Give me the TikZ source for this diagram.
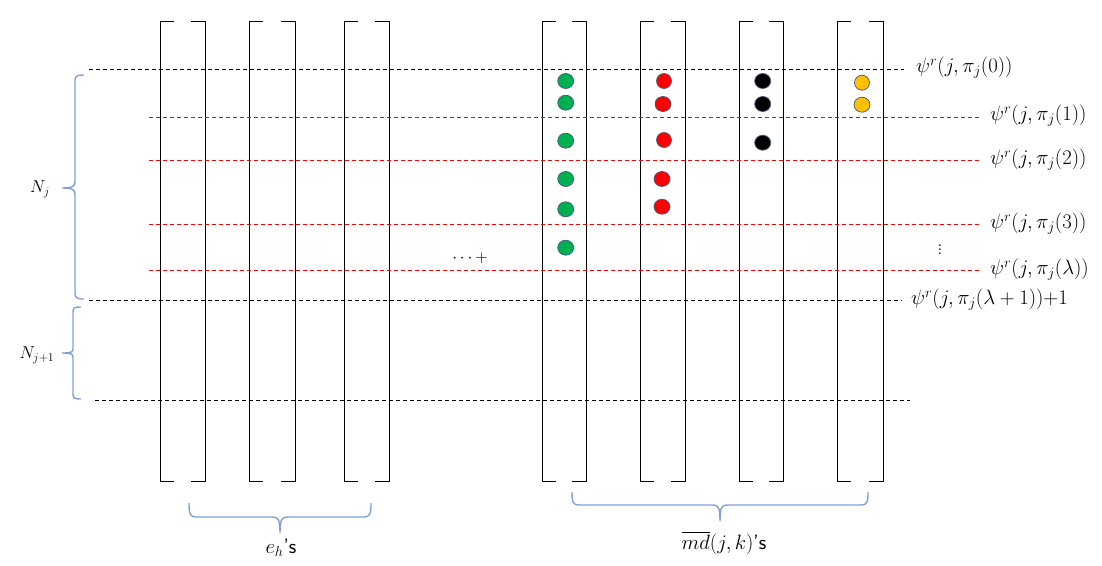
\documentclass[tikz,border=0pt]{standalone}
\usepackage{amsmath}
\begin{document}
\begin{tikzpicture}[x=1pt,y=-1pt,
  bracketline/.style={line width=1pt,black},
  blackdash/.style={line width=0.8pt,black,dash pattern=on 4pt off 3pt},
  reddash/.style={line width=0.8pt,red,dash pattern=on 4pt off 3pt},
  bracestyle/.style={line width=1.4pt,color=bracecol},
  lbl/.style={font=\fontsize{20.74}{24}\selectfont,inner sep=0pt},
  slbl/.style={font=\fontsize{17.28}{21}\selectfont,inner sep=0pt},
]
\definecolor{bracecol}{HTML}{7FA0DA}
\definecolor{dotedge}{HTML}{44587A}
\definecolor{dgreen}{HTML}{00B050}
\definecolor{dred}{HTML}{FF0000}
\definecolor{dyellow}{HTML}{FFC000}
\useasboundingbox (0,0) rectangle (1102,565);
\fill[white] (0,0) rectangle (1102,565);

% brackets
\foreach \L/\R in {160/205,249/295,344/389,542/586,640/685,739/783,837/883}{
  \draw[bracketline] (\L+14,21) -- (\L,21) -- (\L,481) -- (\L+14,481);
  \draw[bracketline] (\R-14,21) -- (\R,21) -- (\R,481) -- (\R-14,481);
}

% dashed lines
\coordinate (b0s) at (89,69);   \coordinate (b0e) at (904,69);
\coordinate (r1s) at (149,117); \coordinate (r1e) at (979,117);
\coordinate (r2s) at (149,160); \coordinate (r2e) at (979,160);
\coordinate (r3s) at (149,224); \coordinate (r3e) at (979,224);
\coordinate (r4s) at (149,270); \coordinate (r4e) at (979,270);
\coordinate (b1s) at (89,300);  \coordinate (b1e) at (902,300);
\coordinate (b2s) at (95,400);  \coordinate (b2e) at (910,400);
\draw[blackdash] (b0s) -- (b0e);
\draw[reddash] (r1s) -- (r1e);
\draw[reddash] (r2s) -- (r2e);
\draw[reddash] (r3s) -- (r3e);
\draw[reddash] (r4s) -- (r4e);
\draw[blackdash] (b1s) -- (b1e);
\draw[blackdash] (b2s) -- (b2e);

% dots
\newcommand{\mydot}[4]{\fill[#1,draw=dotedge,line width=0.7pt] (#2,#3) ellipse [x radius=#4, y radius=7.5];}
\foreach \y in {81,102.7,140.7,179,209.3,247.7}{\mydot{dgreen}{565.7}{\y}{8}}
\mydot{dred}{664}{81}{7.5}
\mydot{dred}{663}{104}{8}
\mydot{dred}{664}{140}{7.5}
\mydot{dred}{662}{179}{8}
\mydot{dred}{662}{206.7}{8}
\foreach \y in {81,104,142.7}{\mydot{black}{762.7}{\y}{8}}
\mydot{dyellow}{862}{82.7}{7.5}
\mydot{dyellow}{862}{104.7}{8}

% braces
\draw[bracestyle] (84,75) .. controls (77,75) and (75,76) .. (75,81) -- (75,182)
  .. controls (75,186) and (73,188) .. (62,188)
  .. controls (73,188) and (75,190) .. (75,194) -- (75,293)
  .. controls (75,298) and (77,299) .. (84,299);
\draw[bracestyle] (81,307) .. controls (74,307) and (73,308) .. (73,312) -- (73,349)
  .. controls (73,352) and (71,353) .. (62,353)
  .. controls (71,353) and (73,354) .. (73,357) -- (73,394)
  .. controls (73,398) and (74,399) .. (81,399);
\draw[bracestyle] (189,503) .. controls (189,514) and (190,517) .. (196,517) -- (273,517)
  .. controls (278,517) and (280,519) .. (280,533)
  .. controls (280,519) and (282,517) .. (287,517) -- (364,517)
  .. controls (370,517) and (371,514) .. (371,503);
\draw[bracestyle] (572,492) .. controls (572,502) and (573,505) .. (579,505) -- (713,505)
  .. controls (718,505) and (720,507) .. (720,521)
  .. controls (720,507) and (722,505) .. (727,505) -- (861,505)
  .. controls (867,505) and (868,502) .. (868,492);

% labels
\node[slbl] (nj) at (40,189) {$N_j$};
\node[slbl] (nj1) at (37,355) {$N_{j+1}$};
\node[lbl] (eh) at (281,548) {$e_h$\textsf{'s}};
\node[lbl] (md) at (724,543) {$\overline{md}(j,k)$\textsf{'s}};
\node[slbl] (plus) at (470,258) {$\cdots+$};
\node[lbl,anchor=west] (p0) at (916,68) {$\psi^r(j,\pi_j(0))$};
\node[lbl,anchor=west] (p1) at (990,116) {$\psi^r(j,\pi_j(1))$};
\node[lbl,anchor=west] (p2) at (990,160) {$\psi^r(j,\pi_j(2))$};
\node[lbl,anchor=west] (p3) at (990,224) {$\psi^r(j,\pi_j(3))$};
\node[lbl] (vd) at (940,247) {$\vdots$};
\node[lbl,anchor=west] (pl) at (990,270) {$\psi^r(j,\pi_j(\lambda))$};
\node[lbl,anchor=west] (pl1) at (911,300) {$\psi^r(j,\pi_j(\lambda+1))$+1};
\end{tikzpicture}
\end{document}
